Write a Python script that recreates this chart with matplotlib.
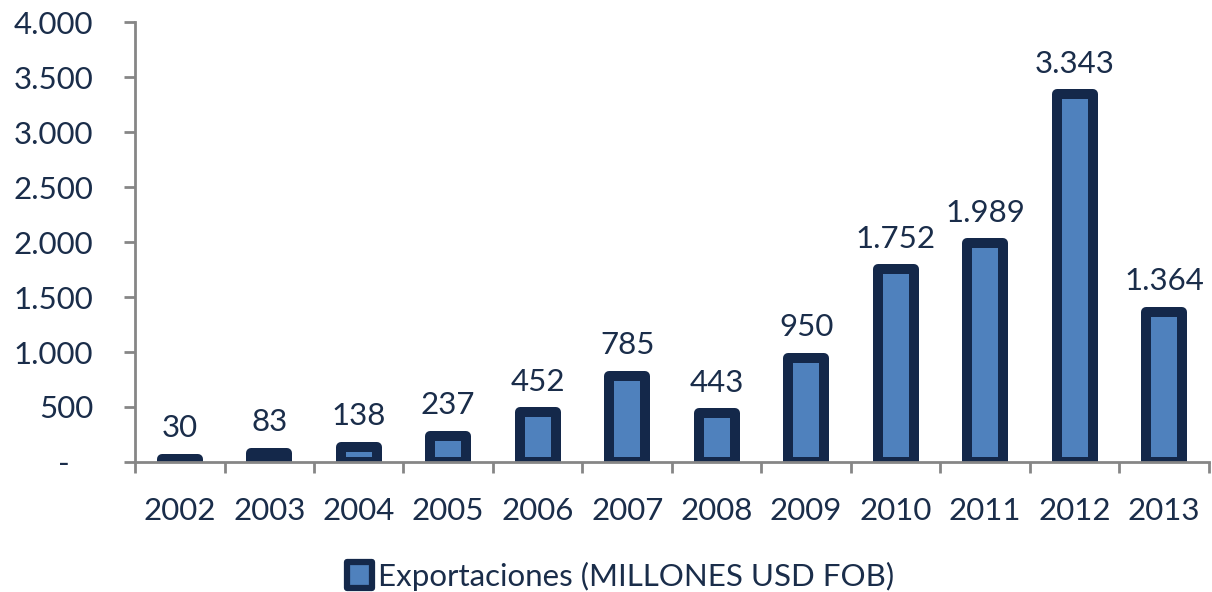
import numpy as np
import matplotlib.pyplot as plt
from matplotlib.ticker import FuncFormatter

years = ['2002', '2003', '2004', '2005', '2006', '2007', '2008', '2009', '2010', '2011', '2012', '2013']
exports = [30, 83, 138, 237, 452, 785, 443, 950, 1752, 1989, 3343, 1364]
series_name = 'Exportaciones (MILLONES USD FOB)'

fill = '#4f81bd'
edge = '#14284a'
text_col = '#1a2d4a'
axis_col = '#868686'

plt.rcParams['font.family'] = ['Lato', 'DejaVu Sans']

def fmt(v):
    # Spanish style thousands separator, dash for zero (accounting style)
    if v == 0:
        return '-   '
    return f'{int(v):,}'.replace(',', '.')

fig = plt.figure(figsize=(12.12, 5.92), dpi=100)
ax = fig.add_axes([0.1114, 0.2196, 0.886, 0.7432])

x = np.arange(len(years))
bars = ax.bar(x, exports, width=0.4, color=fill, edgecolor=edge, linewidth=7.2,
              label=series_name, zorder=3)
for b in bars:
    b.set_joinstyle('round')

for xi, v in zip(x, exports):
    ax.annotate(fmt(v), (xi, v), xytext=(0, 12), textcoords='offset points',
                ha='center', va='bottom', fontsize=22.5, color=text_col)

ax.set_xlim(-0.5, len(years) - 0.5)
ax.set_ylim(0, 4000)
ax.set_yticks(np.arange(0, 4001, 500))
ax.yaxis.set_major_formatter(FuncFormatter(lambda v, p: fmt(v)))

ax.set_xticks(x)
ax.set_xticklabels(years)
ax.set_xticks(np.arange(-0.5, len(years), 1), minor=True)
ax.tick_params(axis='x', which='major', length=0, pad=25, labelsize=22.5, labelcolor=text_col)
ax.tick_params(axis='x', which='minor', length=8, width=2, color=axis_col)
ax.tick_params(axis='y', length=8, width=2, color=axis_col, pad=22, labelsize=22.5,
               labelcolor=text_col)

for s in ['top', 'right']:
    ax.spines[s].set_visible(False)
for s in ['left', 'bottom']:
    ax.spines[s].set_color(axis_col)
    ax.spines[s].set_linewidth(2)
ax.spines['bottom'].set_zorder(4)

leg = fig.legend(loc='center', bbox_to_anchor=(0.512, 0.027), frameon=False,
                 fontsize=22.5, handlelength=0.8, handleheight=0.9, handletextpad=0.2,
                 borderpad=0, borderaxespad=0)
for t in leg.get_texts():
    t.set_color(text_col)
for h in leg.legend_handles:
    h.set_linewidth(4.5)
    h.set_joinstyle('round')

fig.savefig('out.png', dpi=100)
